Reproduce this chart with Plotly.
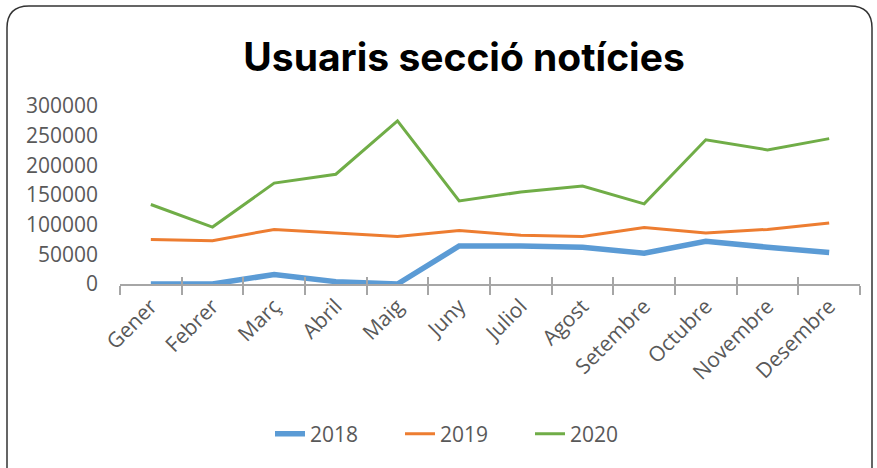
import plotly.graph_objects as go

months = ["Gener", "Febrer", "Març", "Abril", "Maig", "Juny", "Juliol",
          "Agost", "Setembre", "Octubre", "Novembre", "Desembre"]
y2018 = [0, 0, 16000, 4000, 0, 64000, 64000, 62000, 52000, 72000, 62000, 53000]
y2019 = [75000, 73000, 92000, 86000, 80000, 90000, 82000, 80000, 95000, 86000, 92000, 103000]
y2020 = [134000, 96000, 170000, 185000, 275000, 140000, 155000, 165000, 135000, 243000, 226000, 245000]
series_names = ["2018", "2019", "2020"]
colors = ["#5B9BD5", "#ED7D31", "#70AD47"]
widths = [5.5, 3, 3]
ytickvals = [0, 50000, 100000, 150000, 200000, 250000, 300000]
yticktext = [str(v) for v in ytickvals]

W, H = 877, 468
L, R, T, B = 120, 17, 106, 184

fig = go.Figure()
for name, vals, c, w in zip(series_names, [y2018, y2019, y2020], colors, widths):
    fig.add_trace(go.Scatter(x=months, y=vals, mode="lines", name=name,
                             line=dict(color=c, width=w)))

# invisible trace for inside tick marks
fig.add_trace(go.Scatter(x=months, y=[None]*12, xaxis="x2", showlegend=False,
                         hoverinfo="skip"))

# rounded border in pixel -> paper coords
pw, ph = W - L - R, H - T - B
def px(x):
    return (x - L) / pw
def py(y):
    return (H - B - y) / ph
x0, y0, x1, y1, r = 7, 6, 872, 520, 22
path = (f"M {px(x0)},{py(y1)} L {px(x0)},{py(y0+r)} "
        f"Q {px(x0)},{py(y0)} {px(x0+r)},{py(y0)} "
        f"L {px(x1-r)},{py(y0)} Q {px(x1)},{py(y0)} {px(x1)},{py(y0+r)} "
        f"L {px(x1)},{py(y1)}")

tickfont = dict(family="Open Sans", size=21, color="#595959")

fig.update_layout(
    width=W, height=H,
    margin=dict(l=L, r=R, t=T, b=B, autoexpand=False),
    paper_bgcolor="white", plot_bgcolor="white",
    title=dict(text="<b>Usuaris secció notícies</b>", x=464/W, xref="container",
               xanchor="center", y=1 - 57/H, yref="container", yanchor="middle",
               font=dict(family="Inter", size=39, color="#000000")),
    xaxis=dict(type="category", categoryorder="array", categoryarray=months,
               range=[-0.5, 11.5], tickangle=-45, tickfont=tickfont,
               showline=True, linecolor="#a6a6a6", linewidth=1.5,
               ticks="outside", ticklen=9, tickcolor="#a6a6a6", tickwidth=1.5,
               tickson="boundaries", showgrid=False, zeroline=False,
               automargin=False),
    xaxis2=dict(type="category", categoryorder="array", categoryarray=months,
                overlaying="x", range=[-0.5, 11.5], side="bottom",
                anchor="y", ticks="inside", ticklen=7, tickcolor="#a6a6a6",
                tickwidth=1.5, tickson="boundaries", showticklabels=False,
                showgrid=False, showline=False, zeroline=False,
                automargin=False),
    yaxis=dict(range=[0, 300000], tickvals=ytickvals, ticktext=yticktext,
               tickfont=tickfont, showgrid=False, zeroline=False,
               showline=False, ticklabelstandoff=21, automargin=False),
    legend=dict(orientation="h", x=270/W, xanchor="left", xref="container",
                y=1 - 434/H, yref="container", yanchor="middle",
                font=dict(family="Open Sans", size=21, color="#595959"),
                entrywidth=85, entrywidthmode="pixels", tracegroupgap=0),
    shapes=[dict(type="path", path=path, xref="paper", yref="paper",
                 line=dict(color="#333333", width=1.5), layer="above")],
    showlegend=True,
)

fig.write_html("out.html", config={"displayModeBar": False},
               post_script="document.body.style.margin='0';document.body.style.padding='0';")
